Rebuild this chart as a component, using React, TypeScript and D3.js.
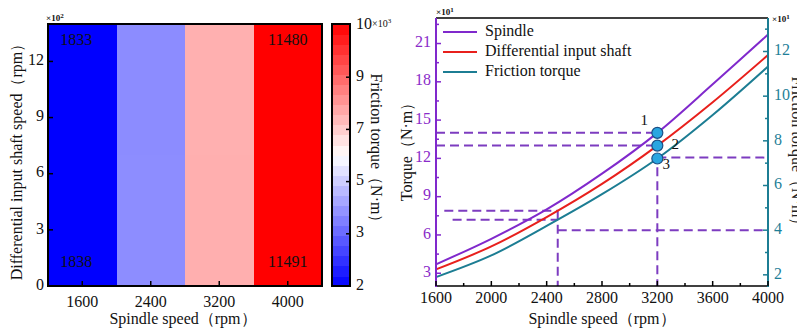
import React from "react";
import * as d3 from "d3";

const W = 797;
const H = 329;
const FONT = '"Liberation Serif", Tinos, "Times New Roman", "DejaVu Serif", serif';

// ---------- Heatmap data ----------
const spindleSpeeds = [1600, 2400, 3200, 4000];
const frictionTopRow = [1833, 4200, 7240, 11480];
const frictionBottomRow = [1838, 4210, 7250, 11491];
const labeledColumns = [0, 3];
const heatYTicks = [0, 300, 600, 900, 1200];
const colorbarLabels = ["2", "3", "5", "7", "9", "10"];

// ---------- Line chart data ----------
const lineSpeeds = [1600, 2000, 2400, 2800, 3200, 3600, 4000];
const spindleTorque = [3.7, 5.7, 8.0, 10.8, 14.0, 17.8, 21.7];
const diffShaftTorque = [3.3, 5.1, 7.4, 10.0, 13.0, 16.4, 20.1];
const frictionTorque = [1.9, 2.87, 4.19, 5.61, 7.21, 9.16, 11.33]; // right axis
const lineXTicks = [1600, 2000, 2400, 2800, 3200, 3600, 4000];
const leftYTicks = [3, 6, 9, 12, 15, 18, 21];
const rightYTicks = [2, 4, 6, 8, 10, 12];
const seriesNames = ["Spindle", "Differential input shaft", "Friction torque"];
const markPoints = [
  { speed: 3200, value: 14, axis: "L", label: "1" },
  { speed: 3200, value: 13, axis: "L", label: "2" },
  { speed: 3200, value: 7.21, axis: "R", label: "3" },
];
const guideLines = [
  { x1: 1600, v1: 14, a1: "L", x2: 3200, v2: 14, a2: "L" },
  { x1: 1600, v1: 13, a1: "L", x2: 3200, v2: 13, a2: "L" },
  { x1: 3200, v1: 7.25, a1: "R", x2: 4000, v2: 7.25, a2: "R" },
  { x1: 3200, v1: 11.3, a1: "L", x2: 3200, v2: 2, a2: "L" },
  { x1: 1660, v1: 7.9, a1: "L", x2: 2480, v2: 7.9, a2: "L" },
  { x1: 1720, v1: 7.2, a1: "L", x2: 2480, v2: 7.2, a2: "L" },
  { x1: 2480, v1: 7.9, a1: "L", x2: 2480, v2: 2, a2: "L" },
  { x1: 2480, v1: 4, a1: "R", x2: 4000, v2: 4, a2: "R" },
];

const PURPLE = "#8029cc";
const RED = "#e8201c";
const TEAL = "#1c7d93";
const PURPLE_LBL = "#8a2bc9";
const TEAL_LBL = "#1f7f98";
const DASH = "#7d3cc0";

export default function App() {
  // ---------- Heatmap scales ----------
  const hx = d3.scaleLinear().domain([1200, 4400]).range([48, 322]);
  const hy = d3.scaleLinear().domain([0, 1400]).range([286, 24]);
  const color = d3
    .scaleLinear<string>()
    .domain([2000, 6000, 10000])
    .range(["#0000ff", "#ffffff", "#ff0000"])
    .clamp(true);
  const half = 400;
  const cbX0 = 332;
  const cbX1 = 350;
  const cbY = d3.scaleLinear().domain([2000, 10000]).range([286, 24]);
  const nBands = 26;
  const bandVals = d3.range(nBands).map((i) => 2000 + (i * 8000) / nBands);
  const cbLabelY = d3.scalePoint<string>().domain(colorbarLabels).range([286, 25]);

  // ---------- Line chart scales ----------
  const lx = d3.scaleLinear().domain([1600, 4000]).range([436, 768]);
  const lyL = d3.scaleLinear().domain([2, 23]).range([286, 18]);
  const lyR = d3.scaleLinear().domain([1.5, 13.5]).range([286, 18]);
  const yOf = (v: number, a: string) => (a === "L" ? lyL(v) : lyR(v));
  const line = (vals: number[], ys: d3.ScaleLinear<number, number>) =>
    d3
      .line<number>()
      .x((_, i) => lx(lineSpeeds[i]))
      .y((d) => ys(d))
      .curve(d3.curveCatmullRom.alpha(0.5))(vals) || "";
  const series = [
    { name: seriesNames[0], vals: spindleTorque, ys: lyL, color: PURPLE },
    { name: seriesNames[1], vals: diffShaftTorque, ys: lyL, color: RED },
    { name: seriesNames[2], vals: frictionTorque, ys: lyR, color: TEAL },
  ];
  const minorX = d3.range(1800, 4000, 400);
  const minorL = d3.range(4.5, 23, 3);
  const minorR = d3.range(3, 13.5, 2);
  const labelOffsets: Record<string, [number, number]> = {
    "1": [-13, -11],
    "2": [18, 0],
    "3": [9, 7],
  };

  return (
    <svg
      width={W}
      height={H}
      style={{ position: "absolute", left: 0, top: 0, background: "#fff", fontFamily: FONT }}
    >
      <rect width={W} height={H} fill="#fff" />

      {/* ================= Heatmap ================= */}
      {spindleSpeeds.map((s, i) => (
        <g key={"c" + s}>
          <rect
            x={hx(s - half)}
            y={hy(1400)}
            width={hx(s + half) - hx(s - half) + 0.5}
            height={hy(700) - hy(1400) + 0.5}
            fill={color(frictionTopRow[i])}
            shapeRendering="crispEdges"
          />
          <rect
            x={hx(s - half)}
            y={hy(700)}
            width={hx(s + half) - hx(s - half) + 0.5}
            height={hy(0) - hy(700)}
            fill={color(frictionBottomRow[i])}
            shapeRendering="crispEdges"
          />
        </g>
      ))}
      {labeledColumns.map((i) => (
        <g key={"lab" + i} fontSize={16} textAnchor="middle" fill="#111">
          <text x={hx(spindleSpeeds[i]) - 6 * (i === 0 ? 1 : 0)} y={hy(1310)} dominantBaseline="middle">
            {frictionTopRow[i]}
          </text>
          <text x={hx(spindleSpeeds[i]) - 6 * (i === 0 ? 1 : 0)} y={hy(120)} dominantBaseline="middle">
            {frictionBottomRow[i]}
          </text>
        </g>
      ))}
      <rect x={48} y={24} width={274} height={262} fill="none" stroke="#000" strokeWidth={2} />
      {spindleSpeeds.map((s) => (
        <g key={"hxt" + s}>
          <line x1={hx(s)} x2={hx(s)} y1={286} y2={281} stroke="#000" strokeWidth={1.5} />
          <text x={hx(s)} y={306.5} fontSize={16} textAnchor="middle" fill="#111">
            {s}
          </text>
        </g>
      ))}
      {heatYTicks.map((t) => (
        <g key={"hyt" + t}>
          <line x1={48} x2={53} y1={hy(t)} y2={hy(t)} stroke="#000" strokeWidth={1.5} />
          <text x={44} y={hy(t)} fontSize={16} textAnchor="end" dominantBaseline="middle" fill="#111">
            {t / 100}
          </text>
        </g>
      ))}
      <text x={46} y={21} fontSize={9} fontWeight="bold" fill="#111">
        ×10<tspan dy={-3} fontSize={7}>2</tspan>
      </text>
      <text x={183} y={324} fontSize={16} textAnchor="middle" fill="#111">
        Spindle speed（rpm）
      </text>
      <text
        transform={`translate(18,158) rotate(-90)`}
        fontSize={16}
        textAnchor="middle"
        dominantBaseline="middle"
        fill="#111"
      >
        Differential input shaft speed（rpm）
      </text>

      {/* colorbar */}
      {bandVals.map((v, i) => (
        <rect
          key={"cb" + i}
          x={cbX0}
          width={cbX1 - cbX0}
          y={cbY(v + 8000 / nBands)}
          height={cbY(v) - cbY(v + 8000 / nBands) + 0.6}
          fill={color(v + 4000 / nBands)}
          shapeRendering="crispEdges"
        />
      ))}
      <rect x={cbX0} y={24} width={cbX1 - cbX0} height={262} fill="none" stroke="#000" strokeWidth={2} />
      {colorbarLabels.map((l, i) => (
        <g key={"cbl" + l}>
          {i > 0 && i < colorbarLabels.length - 1 && (
            <line
              x1={cbX1}
              x2={cbX1 - 4}
              y1={cbLabelY(l)!}
              y2={cbLabelY(l)!}
              stroke="#000"
              strokeWidth={1.5}
            />
          )}
          <text x={356} y={cbLabelY(l)!} fontSize={16} dominantBaseline="middle" fill="#111">
            {l}
            {i === colorbarLabels.length - 1 && (
              <tspan fontSize={10}>
                ×10<tspan dy={-4} fontSize={7}>3</tspan>
              </tspan>
            )}
          </text>
        </g>
      ))}
      <text
        transform={`translate(375,152) rotate(90)`}
        fontSize={16}
        textAnchor="middle"
        dominantBaseline="middle"
        fill="#111"
      >
        Friction torque（N·m）
      </text>

      {/* ================= Line chart ================= */}
      {guideLines.map((g, i) => (
        <line
          key={"g" + i}
          x1={lx(g.x1)}
          y1={yOf(g.v1, g.a1)}
          x2={lx(g.x2)}
          y2={yOf(g.v2, g.a2)}
          stroke={DASH}
          strokeWidth={2}
          strokeDasharray="9 5"
        />
      ))}
      {series.map((s) => (
        <path key={s.name} d={line(s.vals, s.ys)} fill="none" stroke={s.color} strokeWidth={2} />
      ))}
      {markPoints.map((p) => {
        const cx = lx(p.speed);
        const cy = yOf(p.value, p.axis);
        const off = labelOffsets[p.label];
        return (
          <g key={"p" + p.label}>
            <circle cx={cx} cy={cy} r={5.5} fill="#2aa6e0" stroke="#1b4f86" strokeWidth={1.2} />
            <text
              x={cx + off[0]}
              y={cy + off[1]}
              fontSize={15}
              textAnchor="middle"
              dominantBaseline="middle"
              fill="#111"
            >
              {p.label}
            </text>
          </g>
        );
      })}

      {/* frame */}
      <line x1={436} x2={768} y1={18} y2={18} stroke="#000" strokeWidth={1.5} />
      <line x1={436} x2={768} y1={286} y2={286} stroke="#000" strokeWidth={1.5} />
      <line x1={436} x2={436} y1={18} y2={287} stroke={PURPLE} strokeWidth={2} />
      <line x1={768} x2={768} y1={18} y2={287} stroke={TEAL} strokeWidth={2} />

      {/* x axis */}
      {lineXTicks.map((t) => (
        <g key={"lxt" + t}>
          <line x1={lx(t)} x2={lx(t)} y1={286} y2={281} stroke="#000" strokeWidth={1.5} />
          <text x={lx(t)} y={303} fontSize={16} textAnchor="middle" fill="#111">
            {t}
          </text>
        </g>
      ))}
      {minorX.map((t) => (
        <line key={"lmx" + t} x1={lx(t)} x2={lx(t)} y1={286} y2={283} stroke="#000" strokeWidth={1.5} />
      ))}
      <text x={602} y={324} fontSize={16} textAnchor="middle" fill="#111">
        Spindle speed（rpm）
      </text>

      {/* left y axis */}
      {leftYTicks.map((t) => (
        <g key={"lyt" + t}>
          <line x1={436} x2={441} y1={lyL(t)} y2={lyL(t)} stroke={PURPLE} strokeWidth={1.5} />
          <text
            x={431}
            y={lyL(t)}
            fontSize={16}
            textAnchor="end"
            dominantBaseline="middle"
            fill={PURPLE_LBL}
          >
            {t}
          </text>
        </g>
      ))}
      {minorL.map((t) => (
        <line key={"lml" + t} x1={436} x2={439} y1={lyL(t)} y2={lyL(t)} stroke={PURPLE} strokeWidth={1.5} />
      ))}
      <text x={436} y={15} fontSize={9} fontWeight="bold" fill="#111">
        ×10<tspan dy={-3} fontSize={7}>1</tspan>
      </text>
      <text
        transform={`translate(408,148) rotate(-90)`}
        fontSize={16}
        textAnchor="middle"
        dominantBaseline="middle"
        fill="#111"
      >
        Torque（N·m）
      </text>

      {/* right y axis */}
      {rightYTicks.map((t) => (
        <g key={"ryt" + t}>
          <line x1={768} x2={763} y1={lyR(t)} y2={lyR(t)} stroke={TEAL} strokeWidth={1.5} />
          <text x={774} y={lyR(t)} fontSize={16} dominantBaseline="middle" fill={TEAL_LBL}>
            {t}
          </text>
        </g>
      ))}
      {minorR.map((t) => (
        <line key={"lmr" + t} x1={768} x2={765} y1={lyR(t)} y2={lyR(t)} stroke={TEAL} strokeWidth={1.5} />
      ))}
      <text x={772} y={22} fontSize={9} fontWeight="bold" fill="#111">
        ×10<tspan dy={-3} fontSize={7}>1</tspan>
      </text>
      <text
        transform={`translate(796,155) rotate(90)`}
        fontSize={16}
        textAnchor="middle"
        dominantBaseline="middle"
        fill="#222"
      >
        Friction torque（N·m）
      </text>

      {/* legend */}
      {series.map((s, i) => (
        <g key={"leg" + s.name}>
          <line x1={443} x2={477} y1={32 + i * 20} y2={32 + i * 20} stroke={s.color} strokeWidth={2} />
          <text x={485} y={32 + i * 20} fontSize={16} dominantBaseline="middle" fill="#111">
            {s.name}
          </text>
        </g>
      ))}
    </svg>
  );
}
